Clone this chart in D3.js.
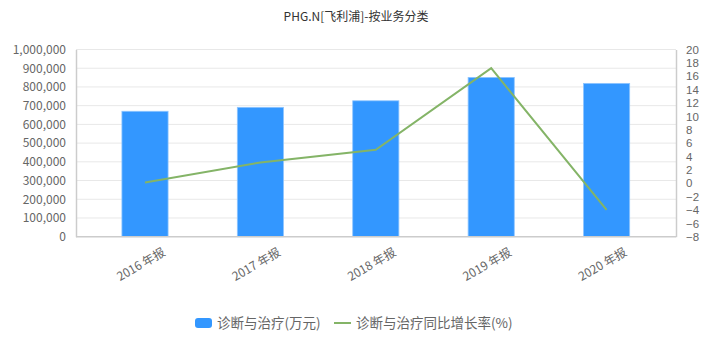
<!DOCTYPE html>
<html>
<head>
<meta charset="utf-8">
<script src="https://cdn.jsdelivr.net/npm/d3@7"></script>
<style>
  body { margin: 0; background: #fff; }
  text { font-family: "Noto Sans CJK SC", "Open Sans", sans-serif; }
</style>
</head>
<body>
<svg id="chart" width="712" height="353"></svg>
<script>
// PHG.N 飞利浦 — 诊断与治疗 by year
const years = ["2016 年报", "2017 年报", "2018 年报", "2019 年报", "2020 年报"];
const revenue = [670000, 691000, 726000, 851000, 819000];   // 万元
const growth = [0.1, 3.1, 5.0, 17.2, -4.0];                 // %
const leftTicks = d3.range(0, 1000001, 100000);
const rightTicks = d3.range(-8, 21, 2);

const W = 712, H = 353;
const plot = { left: 76, right: 676, top: 49.5, bottom: 236.7 };

const svg = d3.select("#chart");

const x = d3.scaleBand()
  .domain(years)
  .range([87.3, 664.3])
  .paddingInner(0.6)
  .paddingOuter(0.3);
const yL = d3.scaleLinear().domain([0, 1000000]).range([plot.bottom, plot.top]);
const yR = d3.scaleLinear().domain([-8, 20]).range([plot.bottom, plot.top]);

// title
svg.append("text")
  .attr("x", W / 2).attr("y", 21)
  .attr("text-anchor", "middle")
  .attr("font-size", 12).attr("fill", "#333")
  .text("PHG.N[飞利浦]-按业务分类");

// grid
svg.append("g").selectAll("line")
  .data(leftTicks.slice(1))
  .join("line")
  .attr("x1", plot.left).attr("x2", plot.right)
  .attr("y1", d => yL(d)).attr("y2", d => yL(d))
  .attr("stroke", "#e8e8e8").attr("stroke-width", 1);

// left axis
const axL = svg.append("g").attr("transform", `translate(${plot.left},0)`)
  .call(d3.axisLeft(yL).tickValues(leftTicks).tickSize(0).tickPadding(10).tickFormat(d3.format(",")));
axL.select(".domain").attr("stroke", "#ccc").attr("stroke-width", 1.5);
axL.selectAll("text").attr("font-size", 12).attr("fill", "#666");

// right axis — ticks are tightly packed, so a font with a short line box
const axR = svg.append("g").attr("transform", `translate(${plot.right},0)`)
  .call(d3.axisRight(yR).tickValues(rightTicks).tickSize(0).tickPadding(10));
axR.select(".domain").attr("stroke", "#ccc").attr("stroke-width", 1.5);
axR.selectAll("text").attr("fill", "#666")
  .style("font-family", "'Liberation Sans', sans-serif")
  .style("font-size", "11.5px");

// bars
svg.append("g").selectAll("rect")
  .data(revenue)
  .join("rect")
  .attr("x", (d, i) => x(years[i]))
  .attr("y", d => yL(d))
  .attr("width", x.bandwidth())
  .attr("height", d => plot.bottom - yL(d))
  .attr("fill", "#3397ff")
  .attr("stroke", "#8ec5ff").attr("stroke-width", 0.8);

// bottom axis line
svg.append("line")
  .attr("x1", plot.left).attr("x2", plot.right)
  .attr("y1", plot.bottom).attr("y2", plot.bottom)
  .attr("stroke", "#ccc").attr("stroke-width", 1.5);

// x labels
svg.append("g").selectAll("text")
  .data(years)
  .join("text")
  .attr("transform", d => `translate(${x(d) + x.bandwidth() / 2 + 19},251) rotate(-30)`)
  .attr("text-anchor", "end")
  .attr("dy", "0.35em")
  .attr("font-size", 12).attr("fill", "#666")
  .text(d => d);

// growth line
const line = d3.line()
  .x((d, i) => x(years[i]) + x.bandwidth() / 2)
  .y(d => yR(d));
svg.append("path")
  .datum(growth)
  .attr("d", line)
  .attr("fill", "none")
  .attr("stroke", "#84b467").attr("stroke-width", 2);

// legend
const lg = svg.append("g").attr("transform", "translate(0,323)");
lg.append("rect").attr("x", 195).attr("y", -5).attr("width", 17).attr("height", 10)
  .attr("rx", 3).attr("fill", "#3397ff");
lg.append("text").attr("x", 217).attr("dy", "0.35em")
  .attr("font-size", 13.5).attr("fill", "#666").text("诊断与治疗(万元)");
lg.append("line").attr("x1", 334).attr("x2", 351).attr("y1", 0).attr("y2", 0)
  .attr("stroke", "#84b467").attr("stroke-width", 2);
lg.append("text").attr("x", 356).attr("dy", "0.35em")
  .attr("font-size", 13.5).attr("fill", "#666").text("诊断与治疗同比增长率(%)");
</script>
</body>
</html>
